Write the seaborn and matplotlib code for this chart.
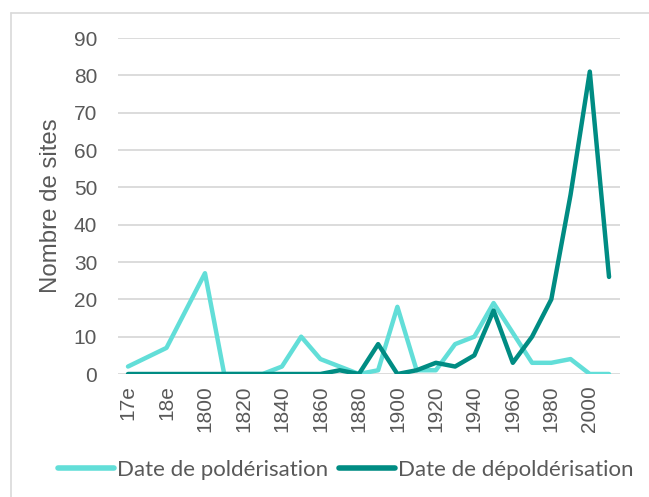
import pandas as pd
import matplotlib.pyplot as plt
import seaborn as sns

# ==========================================
# Data
# ==========================================

periodes = ["17e", "17e-18e", "18e", "18e-19e",
            "1800", "1810", "1820", "1830", "1840", "1850", "1860", "1870",
            "1880", "1890", "1900", "1910", "1920", "1930", "1940", "1950",
            "1960", "1970", "1980", "1990", "2000", "2010"]

polderisation = [2, 4.5, 7, 17, 27, 0, 0, 0, 2, 10, 4, 2,
                 0, 1, 18, 1, 1, 8, 10, 19, 11, 3, 3, 4, 0, 0]

depolderisation = [0, 0, 0, 0, 0, 0, 0, 0, 0, 0, 0, 1,
                   0, 8, 0, 1, 3, 2, 5, 17, 3, 10, 20, 48, 81, 26]

series = ["Date de poldérisation", "Date de dépoldérisation"]
couleurs = ["#62DED8", "#008C83"]

df = pd.DataFrame({
    "pos": list(range(len(periodes))) * 2,
    "valeur": polderisation + depolderisation,
    "serie": [series[0]] * len(periodes) + [series[1]] * len(periodes),
})

# ==========================================
# Plot
# ==========================================

sns.set_style("white")
plt.rcParams["font.family"] = ["Liberation Sans", "DejaVu Sans"]

fig = plt.figure(figsize=(6.49, 4.97), dpi=100)
ax = fig.add_axes([118 / 649, 1 - 374 / 497, 502 / 649, 336 / 497])

sns.lineplot(
    data=df,
    x="pos",
    y="valeur",
    hue="serie",
    palette=couleurs,
    linewidth=3.2,
    ax=ax,
    legend=False,
)

for ln in ax.lines:
    ln.set_solid_joinstyle("round")
    ln.set_solid_capstyle("round")

ax.set_xlim(-0.52, len(periodes) - 0.43)
ax.set_ylim(0, 90)
ax.set_yticks(range(0, 91, 10))
ax.set_xticks(range(0, len(periodes) - 1, 2))
ax.set_xticklabels(periodes[0:len(periodes) - 1:2], rotation=90)

ax.grid(axis="y", color="#D9D9D9", linewidth=1.3)
ax.set_axisbelow(True)
for s in ax.spines.values():
    s.set_visible(False)

ax.tick_params(axis="y", length=0, pad=15, labelsize=15, labelcolor="#595959")
ax.tick_params(axis="x", length=0, pad=8, labelsize=15, labelcolor="#595959")

ax.set_xlabel("")
ax.set_ylabel("Nombre de sites", fontsize=17.3, color="#595959")
ax.yaxis.set_label_coords((62 - 118) / 502, 0.5)

# legend
handles = [plt.Line2D([], [], color=c, linewidth=4, solid_capstyle="round") for c in couleurs]
fig.legend(
    handles, series,
    loc="center",
    bbox_to_anchor=(346 / 649, 1 - 470 / 497),
    ncol=2,
    frameon=False,
    prop={"family": ["Lato", "DejaVu Sans"], "size": 16},
    labelcolor="#595959",
    handlelength=2.5,
    handletextpad=0.15,
    columnspacing=0.5,
)

# chart border
fig.add_artist(plt.Line2D([11 / 649, 11 / 649], [0, 1 - 13 / 497], transform=fig.transFigure,
                          color="#D9D9D9", linewidth=1.2))
fig.add_artist(plt.Line2D([11 / 649, 1], [1 - 13 / 497, 1 - 13 / 497], transform=fig.transFigure,
                          color="#D9D9D9", linewidth=1.2))

plt.savefig("out.png", dpi=100)
